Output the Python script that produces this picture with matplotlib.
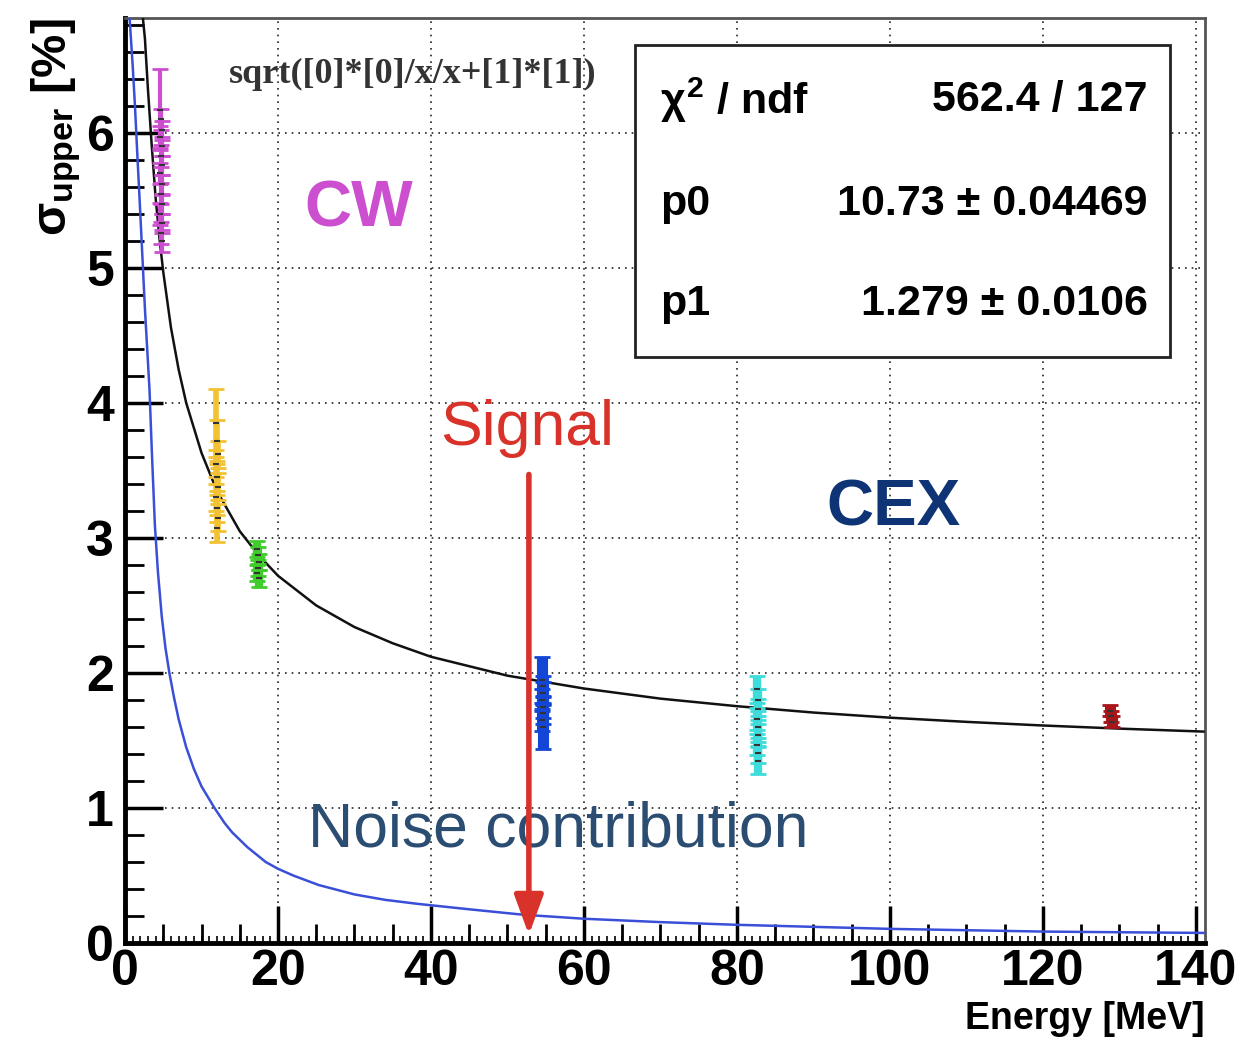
import numpy as np
import matplotlib.pyplot as plt
from matplotlib.patches import Rectangle

plt.rcParams['font.family'] = ['Liberation Sans', 'DejaVu Sans']
plt.rcParams['mathtext.fontset'] = 'custom'
plt.rcParams['mathtext.rm'] = 'Liberation Sans:bold'
plt.rcParams['mathtext.it'] = 'Liberation Sans:bold'
plt.rcParams['mathtext.bf'] = 'Liberation Sans:bold'

# Fit curve (black)
fit_x = [2.3, 2.6, 3, 3.5, 4, 4.5, 5, 6, 7, 8, 10, 12, 15, 17.5, 20, 25, 30, 35, 40, 50, 60, 70, 80,
         90, 100, 110, 120, 130, 141]
fit_y = [6.87, 6.70, 6.32, 5.90, 5.52, 5.22, 4.97, 4.56, 4.25, 4.00, 3.63, 3.35, 3.05, 2.87, 2.72,
         2.50, 2.34, 2.22, 2.12, 1.98, 1.885, 1.81, 1.754, 1.707, 1.669, 1.638, 1.611, 1.588, 1.566]

# Noise contribution (blue)
noise_x = [0.6, 1.0, 1.3, 1.6, 2.0, 2.3, 2.6, 2.9, 3.2, 3.5, 3.9, 4.3, 4.8, 5.3, 5.8, 6.4, 7.0, 8.0,
           9.0, 10, 11.7, 13, 14, 16, 18.4, 20, 22, 25.3, 30, 34, 38.3, 45, 52, 60, 70, 80, 90, 100,
           110, 120, 130, 141]
noise_y = [6.85, 6.50, 6.20, 5.85, 5.40, 5.05, 4.70, 4.40, 4.10, 3.65, 3.10, 2.75, 2.42, 2.18, 2.00,
           1.82, 1.66, 1.45, 1.29, 1.16, 1.00, 0.89, 0.82, 0.71, 0.60, 0.55, 0.50, 0.43, 0.36, 0.32,
           0.29, 0.25, 0.21, 0.18, 0.155, 0.135, 0.12, 0.105, 0.095, 0.085, 0.08, 0.075]

# Measured points, one group per beam setting
cw_x = [4.6, 4.7, 4.8, 4.6, 4.9, 4.7, 4.8, 4.6, 4.9, 4.7, 4.8, 4.6, 4.9, 4.7, 4.8]
cw_y = [6.17, 6.10, 6.02, 5.97, 5.90, 5.83, 5.76, 5.70, 5.62, 5.55, 5.47, 5.40, 5.33, 5.26, 5.20]
cw_e = [0.30, 0.08, 0.07, 0.08, 0.07, 0.08, 0.07, 0.08, 0.07, 0.08, 0.07, 0.08, 0.07, 0.08, 0.08]

y1_x = [11.9, 12.0, 12.1, 11.9, 12.0, 12.1, 11.9, 12.0, 12.1, 12.0]
y1_y = [3.85, 3.72, 3.62, 3.55, 3.45, 3.38, 3.30, 3.22, 3.15, 3.07]
y1_e = [0.25, 0.15, 0.10, 0.10, 0.10, 0.10, 0.10, 0.10, 0.10, 0.10]

g_x = [17.3, 17.4, 17.5, 17.4, 17.3, 17.5]
g_y = [2.92, 2.87, 2.82, 2.78, 2.74, 2.70]
g_e = [0.06, 0.06, 0.06, 0.06, 0.06, 0.06]

b_x = [54.5, 54.6, 54.7, 54.5, 54.6, 54.7, 54.5, 54.6]
b_y = [1.95, 1.90, 1.85, 1.80, 1.75, 1.70, 1.65, 1.60]
b_e = [0.17, 0.08, 0.08, 0.08, 0.08, 0.08, 0.08, 0.16]

c_x = [82.6, 82.7, 82.8, 82.6, 82.7, 82.8, 82.6, 82.7, 82.8]
c_y = [1.88, 1.80, 1.73, 1.66, 1.60, 1.54, 1.47, 1.41, 1.35]
c_e = [0.10, 0.08, 0.08, 0.08, 0.08, 0.08, 0.08, 0.08, 0.10]

r_x = [128.8, 128.9, 129.0]
r_y = [1.72, 1.68, 1.64]
r_e = [0.04, 0.04, 0.04]

# colour, bar width
groups = [(cw_x, cw_y, cw_e, '#cc4fd0', 3), (y1_x, y1_y, y1_e, '#f2c232', 4),
          (g_x, g_y, g_e, '#3fcc2c', 6), (b_x, b_y, b_e, '#1346d6', 8),
          (c_x, c_y, c_e, '#3fdcdc', 6), (r_x, r_y, r_e, '#a8161a', 8)]

xticks = [0, 20, 40, 60, 80, 100, 120, 140]
yticks = [0, 1, 2, 3, 4, 5, 6]

fig = plt.figure(figsize=(12.39, 10.37), dpi=100)
ax = fig.add_axes([0.1009, 0.0906, 0.8717, 0.8920])
ax.set_xlim(0, 141.2)
ax.set_ylim(0, 6.85)

ax.grid(True, color='#222222', linestyle=(0, (1, 3)), linewidth=1.2)
ax.set_axisbelow(True)

ax.plot(fit_x, fit_y, color='#111111', lw=1.8, zorder=3)
ax.plot(noise_x, noise_y, color='#3a4fd8', lw=1.8, zorder=3)

for gx, gy, ge, col, w in groups:
    ax.errorbar(gx, gy, yerr=ge, fmt='none', ecolor=col, elinewidth=w,
                capsize=6, capthick=2, zorder=4)
    ax.plot(gx, gy, '_', color='#333333', markersize=4, mew=1.5, zorder=4.5)

ax.annotate('', xy=(52.8, 0.06), xytext=(52.8, 3.47),
            arrowprops=dict(arrowstyle='-|>,head_length=0.6,head_width=0.22', color='#d8322a',
                            lw=4, mutation_scale=40, shrinkA=0, shrinkB=0), zorder=5)

ax.text(30.5, 5.43, 'CW', color='#cc4fd0', fontsize=47, fontweight='bold', ha='center', va='center')
ax.text(100.4, 3.22, 'CEX', color='#0e3475', fontsize=47, fontweight='bold', ha='center', va='center')
ax.text(52.5, 3.81, 'Signal', color='#d8322a', fontsize=45, ha='center', va='center')
ax.text(56.6, 0.84, 'Noise contribution', color='#2b4d72', fontsize=45, ha='center', va='center', zorder=4)
ax.text(37.6, 6.43, 'sqrt([0]*[0]/x/x+[1]*[1])', color='#333333', fontsize=26, fontweight='bold',
        family=['Liberation Serif', 'DejaVu Serif'], ha='center', va='center')

# fit statistics box
ax.add_patch(Rectangle((66.7, 4.34), 69.9, 2.31, facecolor='white', edgecolor='#222222', lw=2, zorder=6))
ax.text(69.9, 6.24, r'$\chi^2$ / ndf', fontsize=31, fontweight='bold', ha='left', va='center', zorder=7)
ax.text(133.7, 6.24, '562.4 / 127', fontsize=31, fontweight='bold', ha='right', va='center', zorder=7)
ax.text(69.9, 5.47, 'p0', fontsize=31, fontweight='bold', ha='left', va='center', zorder=7)
ax.text(133.7, 5.47, '10.73 ± 0.04469', fontsize=31, fontweight='bold', ha='right', va='center', zorder=7)
ax.text(69.9, 4.73, 'p1', fontsize=31, fontweight='bold', ha='left', va='center', zorder=7)
ax.text(133.7, 4.73, '1.279 ± 0.0106', fontsize=31, fontweight='bold', ha='right', va='center', zorder=7)

ax.set_xticks(xticks)
ax.set_yticks(yticks)
ax.set_xticks(np.arange(0, 141, 5), minor=True)
ax.set_yticks(np.arange(0, 6.85, 0.2), minor=True)
ax.tick_params(which='major', direction='in', length=27, width=2.5, labelsize=36, pad=8)
ax.tick_params(axis='x', which='major', pad=4)
ax.tick_params(which='minor', direction='in', length=14, width=2)
for lab in ax.get_xticklabels() + ax.get_yticklabels():
    lab.set_fontweight('bold')

sec = ax.secondary_xaxis('bottom')
sec.set_xticks(np.arange(0, 141, 1))
sec.tick_params(direction='in', length=5, width=1.2, labelbottom=False)
sec.spines['bottom'].set_visible(False)

for side in ['left', 'bottom']:
    ax.spines[side].set_linewidth(3.5)
for side in ['top', 'right']:
    ax.spines[side].set_linewidth(2)
    ax.spines[side].set_color('#555555')

ax.set_xlabel('Energy [MeV]', fontsize=27, fontweight='bold')
ax.xaxis.set_label_coords(1.0, -0.0925)
ax.xaxis.label.set_ha('right')
ax.xaxis.label.set_va('baseline')
ax.set_ylabel(r'$\sigma_{\rm upper}$ [%]', fontsize=35, fontweight='bold', loc='top', labelpad=2)

fig.savefig('out.png', dpi=100)
